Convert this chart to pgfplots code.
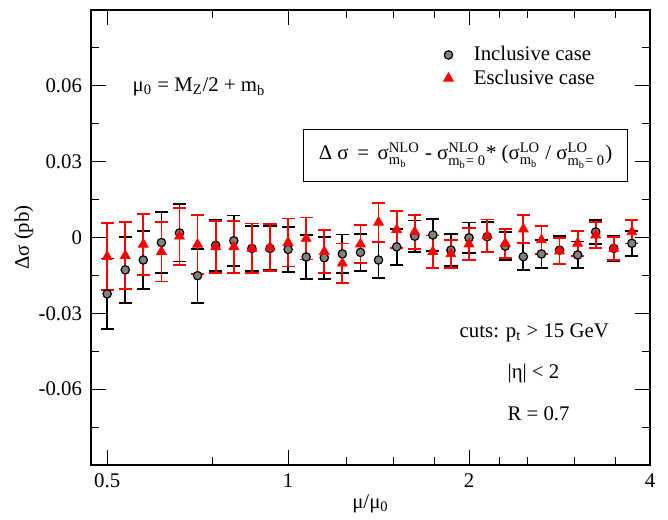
\documentclass[border=0pt]{standalone}
\usepackage{fontspec}
\setmainfont{Liberation Serif}
\usepackage{amsmath}
\usepackage{pgfplots}
\pgfplotsset{compat=1.18}

% mu/mu0 = 0.5*2^(k/10), k=0..29 ; columns: x, y, error
\pgfplotstableread{
x       y        e
0.5000  -0.0223  0.0140
0.5359  -0.0128  0.0130
0.5743  -0.0089  0.0116
0.6156  -0.0020  0.0122
0.6598   0.0018  0.0113
0.7071  -0.0151  0.0107
0.7579  -0.0031  0.0102
0.8123  -0.0013  0.0100
0.8706  -0.0043  0.0090
0.9330  -0.0043  0.0087
1.0000  -0.0047  0.0090
1.0718  -0.0077  0.0087
1.1487  -0.0080  0.0083
1.2311  -0.0065  0.0077
1.3195  -0.0059  0.0073
1.4142  -0.0089  0.0071
1.5157  -0.0037  0.0072
1.6245   0.0005  0.0062
1.7411   0.0010  0.0064
1.8661  -0.0050  0.0064
2.0000  -0.0001  0.0060
2.1435   0.0003  0.0059
2.2974  -0.0034  0.0055
2.4623  -0.0076  0.0053
2.6390  -0.0065  0.0055
2.8284  -0.0050  0.0057
3.0314  -0.0069  0.0053
3.2490   0.0022  0.0047
3.4822  -0.0043  0.0050
3.7321  -0.0023  0.0050
}\inclusive

\pgfplotstableread{
x       y        e
0.5000  -0.0076  0.0132
0.5359  -0.0072  0.0132
0.5743  -0.0027  0.0120
0.6156  -0.0056  0.0118
0.6598   0.0005  0.0113
0.7071  -0.0027  0.0117
0.7579  -0.0037  0.0103
0.8123  -0.0037  0.0103
0.8706  -0.0043  0.0098
0.9330  -0.0039  0.0092
1.0000  -0.0020  0.0095
1.0718  -0.0004  0.0083
1.1487  -0.0056  0.0085
1.2311  -0.0102  0.0078
1.3195  -0.0026  0.0074
1.4142   0.0060  0.0077
1.5157   0.0031  0.0073
1.6245   0.0022  0.0068
1.7411  -0.0056  0.0064
1.8661  -0.0065  0.0055
2.0000  -0.0026  0.0063
2.1435   0.0007  0.0064
2.2974  -0.0023  0.0057
2.4623   0.0033  0.0056
2.6390  -0.0010  0.0055
2.8284  -0.0054  0.0052
3.0314  -0.0023  0.0050
3.2490   0.0009  0.0052
3.4822  -0.0043  0.0045
3.7321   0.0022  0.0046
}\exclusive

\begin{document}
\begin{tikzpicture}[font=\fontsize{10.4}{12.5}\selectfont]
\begin{axis}[
  scale only axis, width=279.5pt, height=227.5pt,
  xmode=log, xmin=0.47, xmax=4,
  ymin=-0.09, ymax=0.09,
  xtick={0.5,1,2,4}, xticklabels={0.5,1,2,4},
  minor xtick={0.75,1.25,1.5,1.75,2.25,2.5,3,3.5},
  ytick={-0.06,-0.03,0,0.03,0.06},
  yticklabels={-0.06,-0.03,0,0.03,0.06},
  minor ytick={-0.075,-0.045,-0.015,0.015,0.045,0.075},
  scaled y ticks=false,
  tick align=inside,
  major tick length=7.5pt, minor tick length=3.8pt,
  tick style={black, line width=0.5pt},
  axis line style={line width=1pt},
  xticklabel style={yshift=-1pt},
  yticklabel style={xshift=-1pt},
  xlabel={μ/μ$_{\text{0}}$},
  ylabel={Δσ (pb)},
  xlabel style={at={(axis description cs:0.5,-0.085)}, anchor=center},
  ylabel style={at={(axis description cs:-0.12,0.5)}, anchor=center},
  legend style={draw=none, fill=none, at={(axis description cs:0.6095,0.93)},
    anchor=north west, inner sep=0pt, row sep=-1pt},
  legend cell align=left,
  legend image code/.code={%
    \path (0pt,0pt) (18.5pt,0pt);
    \draw[mark repeat=2,mark phase=2,#1] plot coordinates {(0pt,0pt)(8pt,0pt)(16pt,0pt)};},
]
\addplot[only marks, mark=*, mark size=2.1pt,
  mark options={draw=black, fill=black!50, line width=0.6pt},
  error bars/.cd, y dir=both, y explicit,
  error bar style={black, line width=0.9pt},
  error mark options={black, mark size=3.3pt, line width=0.9pt, rotate=90}]
  table[x=x, y=y, y error=e] {\inclusive};
\addlegendentry{Inclusive case}
\addplot[only marks, mark=triangle*, mark size=2.8pt,
  mark options={draw=red, fill=red},
  error bars/.cd, y dir=both, y explicit,
  error bar style={red, line width=0.9pt},
  error mark options={red, mark size=3.3pt, line width=0.9pt, rotate=90}]
  table[x=x, y=y, y error=e] {\exclusive};
\addlegendentry{Esclusive case}

\node[anchor=base west] at (axis description cs:0.062,0.820)
  {μ$_{\text{0}}$ = M$_{\text{Z}}$/2 + m$_{\text{b}}$};
\node[draw, line width=0.6pt, minimum width=162pt, minimum height=26pt, inner sep=0pt]
  at (axis description cs:0.670,0.680)
  {Δ σ \,=\, σ$^{\text{NLO}}_{\text{m}_{\text{b}}}$ - σ$^{\text{NLO}}_{\text{m}_{\text{b}}\text{= 0}}$* (σ$^{\text{LO}}_{\text{m}_{\text{b}}}$ / σ$^{\text{LO}}_{\text{m}_{\text{b}}\text{= 0}}$)};
\node[anchor=base west] at (axis description cs:0.647,0.281) {cuts: p$_{\text{t}}$ > 15 GeV};
\node[anchor=base west] at (axis description cs:0.7326,0.1905) {|η| < 2};
\node[anchor=base west] at (axis description cs:0.7326,0.0974) {R = 0.7};
\end{axis}
\path ([shift={(-45.5pt,-26.5pt)}]current axis.south west)
  rectangle ([shift={(9pt,5pt)}]current axis.north east);
\end{tikzpicture}
\end{document}
